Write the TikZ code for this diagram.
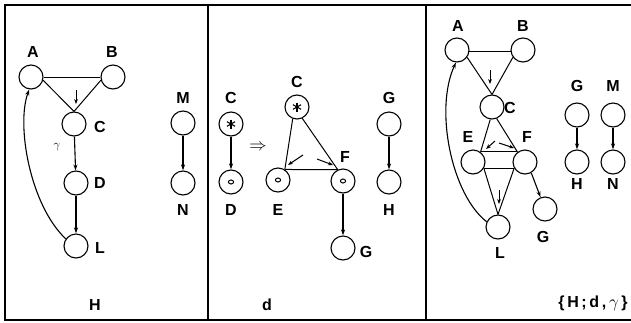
\documentclass[tikz,border=0pt]{standalone}
\usepackage{fontspec}
\setmainfont{Liberation Sans}
\usetikzlibrary{arrows.meta,calc}
\begin{document}
\begin{tikzpicture}[x=1pt,y=-1pt,
  vtx/.style={circle,draw,line width=1.1pt,minimum size=24pt,inner sep=0pt},
  lbl/.style={font=\fontsize{16}{18}\selectfont\bfseries,inner sep=0pt},
  edge/.style={line width=1pt},
  arr/.style={line width=1.1pt,-{Stealth[length=6pt,width=4pt]}},
  tick/.style={line width=1pt,-{Stealth[length=5pt,width=3.8pt]}},
  frame/.style={line width=1.2pt}]
\useasboundingbox (0,0) rectangle (631,322);
% frame
\draw[frame] (631,5) -- (5,5) -- (5,320) -- (631,320);
\draw[frame] (208,5) -- (208,320);
\draw[frame] (426,5) -- (426,320);

% ---------- panel H ----------
\node[vtx] (A1) at (31,77) {};
\node[vtx] (B1) at (113,77) {};
\node[vtx] (C1) at (74,124) {};
\node[vtx] (D1) at (76,183) {};
\node[vtx] (L1) at (76,246) {};
\node[vtx] (M1) at (183,123) {};
\node[vtx] (N1) at (183,183) {};
\node[lbl] (lA1) at (33,52) {A};
\node[lbl] (lB1) at (112,52) {B};
\node[lbl] (lC1) at (100,127) {C};
\node[lbl] (lD1) at (100,183) {D};
\node[lbl] (lL1) at (100,248) {L};
\node[lbl] (lM1) at (183,98) {M};
\node[lbl] (lN1) at (183,210) {N};
\node[inner sep=0pt,font=\large] (g1) at (57,147) {$\gamma$};
\node[lbl] (lH1) at (95,305) {H};
\draw[edge] (A1.east) -- (B1.west);
\draw[edge] (A1.-15) -- (C1.north);
\draw[edge] (B1.195) -- (C1.north);
\coordinate (t1s) at (76,90);
\coordinate (t1e) at (76,104);
\draw[tick] (t1s) -- (t1e);
\draw[arr] (C1) -- (D1);
\draw[arr] (D1) -- (L1);
\draw[arr] (M1) -- (N1);
\draw[arr] (L1.145) .. controls (30,205) and (16,125) .. (A1.262);

% ---------- panel d ----------
\node[vtx] (C2) at (231,124) {};
\node[vtx] (D2) at (231,182) {};
\node[vtx] (C3) at (297,107) {};
\node[vtx] (E2) at (278,180) {};
\node[vtx] (F2) at (343,181) {};
\node[vtx] (G2) at (343,248) {};
\node[vtx] (G3) at (389,124) {};
\node[vtx] (H2) at (389,182) {};
\node[lbl] (lC2) at (231,98) {C};
\node[lbl] (lD2) at (231,210) {D};
\node[lbl] (lC3) at (297,82) {C};
\node[lbl] (lE2) at (278,210) {E};
\node[lbl] (lF2) at (345,157) {F};
\node[lbl] (lG2) at (366,252) {G};
\node[lbl] (lG3) at (389,98) {G};
\node[lbl] (lH2) at (389,210) {H};
\node[lbl] (ld) at (267,305) {d};
\node[inner sep=0pt,font=\LARGE] (imp) at (258,147) {$\Rightarrow$};
% stars
\foreach \n in {C2,C3}{
  \draw[line width=1.1pt] ($(\n.center)+(0,-4.5)$) -- ($(\n.center)+(0,4.5)$);
  \draw[line width=1.1pt] ($(\n.center)+(-4,-2.3)$) -- ($(\n.center)+(4,2.3)$);
  \draw[line width=1.1pt] ($(\n.center)+(-4,2.3)$) -- ($(\n.center)+(4,-2.3)$);
}
% small inner circles
\foreach \n in {D2,E2,F2}{
  \draw[line width=1pt] (\n.center) ellipse (2.6pt and 2pt);
}
\draw[arr] (C2) -- (D2);
\draw[edge] (C3.250) -- (E2.57);
\draw[edge] (C3.295) -- (F2.115);
\draw[edge] (E2.57) -- (F2.115);
\coordinate (t2s) at (303,155);
\coordinate (t2e) at (288,165);
\coordinate (t3s) at (317,159);
\coordinate (t3e) at (333,165);
\draw[tick] (t2s) -- (t2e);
\draw[tick] (t3s) -- (t3e);
\draw[arr] (F2) -- (G2);
\draw[arr] (G3) -- (H2);

% ---------- panel {H;d,gamma} ----------
\node[vtx] (A4) at (457,50) {};
\node[vtx] (B4) at (523,50) {};
\node[vtx] (C4) at (492,107) {};
\node[vtx] (E4) at (473,162) {};
\node[vtx] (F4) at (525,162) {};
\node[vtx] (G4) at (545,209) {};
\node[vtx] (L4) at (498,227) {};
\node[vtx] (G5) at (577,115) {};
\node[vtx] (H4) at (577,162) {};
\node[vtx] (M4) at (613,115) {};
\node[vtx] (N4) at (613,162) {};
\node[lbl] (lA4) at (458,26) {A};
\node[lbl] (lB4) at (523,26) {B};
\node[lbl] (lC4) at (510,108) {C};
\node[lbl] (lE4) at (468,137) {E};
\node[lbl] (lF4) at (527,137) {F};
\node[lbl] (lG4) at (543,237) {G};
\node[lbl] (lL4) at (500,253) {L};
\node[lbl] (lG5) at (577,86) {G};
\node[lbl] (lH4) at (577,184) {H};
\node[lbl] (lM4) at (613,86) {M};
\node[lbl] (lN4) at (613,184) {N};
\node[lbl] (lset) at (593,303) {\{\,H\,;\,d\,,\,$\gamma$\,\}};
\draw[edge] (A4.-8) -- (B4.188);
\draw[edge] (A4.-36) -- (C4.north);
\draw[edge] (B4.216) -- (C4.north);
\coordinate (t4s) at (490,70);
\coordinate (t4e) at (490,84);
\draw[tick] (t4s) -- (t4e);
\draw[edge] (C4.262) -- (E4.53);
\draw[edge] (C4.292) -- (F4.127);
\draw[edge] (E4.53) -- (F4.127);
\draw[edge] (E4.-30) -- (F4.210);
\coordinate (t5s) at (495,141);
\coordinate (t5e) at (486,149);
\coordinate (t6s) at (499,143);
\coordinate (t6e) at (514,148);
\draw[tick] (t5s) -- (t5e);
\draw[tick] (t6s) -- (t6e);
\draw[edge] (E4.-30) -- (L4.north);
\draw[edge] (F4.210) -- (L4.north);
\coordinate (t7s) at (499,190);
\coordinate (t7e) at (499,204);
\draw[tick] (t7s) -- (t7e);
\draw[arr] (F4.-60) -- (G4);
\draw[arr] (G5) -- (H4);
\draw[arr] (M4) -- (N4);
\draw[arr] (L4.155) .. controls (452,195) and (434,110) .. (A4.265);
\end{tikzpicture}
\end{document}
